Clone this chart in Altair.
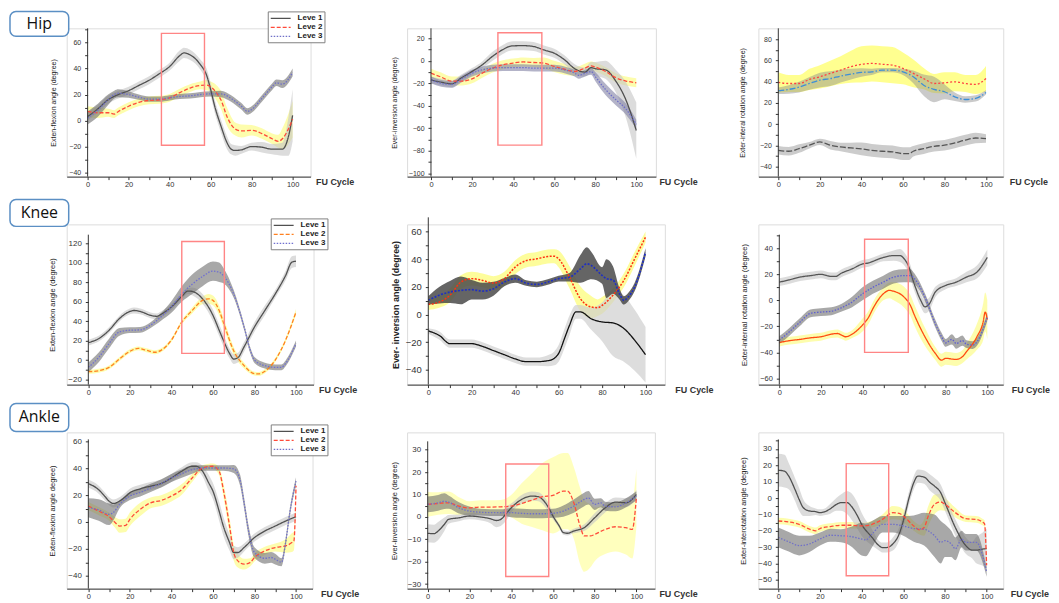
import altair as alt
import pandas as pd

LEVELS = ["Leve 1", "Leve 2", "Leve 3"]
ROW_NAMES = ["Hip", "Knee", "Ankle"]
X_TICKS = list(range(0, 101, 10))
Y_TITLES = [
    "Exten-flexion angle (degree)",
    "Ever-inversion angle (degree)",
    "Exter-interal rotation angle (degree)",
    "Exten-flexion angle (degree)",
    "Ever- inversion angle (degree)",
    "Exter-internal rotation angle (degree)",
    "Exten-flexion angle degree)",
    "Ever-inversion angle (degree)",
    "Exter-interotation angle (degree)",
]

# ---- data: (FU cycle %, mean angle, half band width) ----
HIP_FE_L1 = [(0,3,3),(5,9,3),(10,16,3),(15,20,3),(20,23,3),(25,27,3),(30,31,3),(35,36,3),(40,41.5,3),(45,50,4),(47,52,4),(50,50.5,4),(55,43,4),(58,35,5),(60,24,5),(62,11,5),(65,-4,5),(68,-17,5),(70,-22,4),(72,-23,4),(75,-22.5,3),(80,-20,3),(85,-20.5,4),(90,-22,4),(95,-22,5),(98,-12,15),(100,4,20)]
HIP_FE_L2 = [(0,7,4),(5,6,4),(10,6,3),(13,5,3),(15,7,3),(20,11,3),(25,14,3),(30,15.5,3),(35,16,3),(40,17.5,3),(45,21.5,3),(50,25,3),(55,27,3),(58,27.3,4),(60,26,4),(63,21,6),(65,16,7),(68,3,7),(70,-3,6),(72,-6.5,5),(75,-8,5),(80,-7.5,4),(85,-10,4),(90,-14,4),(93,-16,5),(95,-14,8),(100,1,14)]
HIP_FE_L3 = [(0,2,5),(5,8,5),(10,16,4),(13,20,3),(15,21,3),(20,20,2.5),(25,18,2),(30,16.5,2),(35,16.5,2),(40,17.5,2),(45,18.5,2),(50,19,2),(55,20,2),(60,20.5,2),(65,20.5,2.5),(70,17,2.5),(75,11,2.5),(78,7,2.5),(80,8.5,2.5),(85,17,2.5),(90,26,2.5),(92,29,2.5),(95,28,3),(100,37,3)]
HIP_FE_ROI = [36, 57, -19, 67]

HIP_EI_L1 = [(0,-17,3),(5,-19,3),(10,-20.5,3),(15,-15,3),(20,-9.5,3),(25,-3.5,3),(30,4,4),(35,10,4),(38,12.7,4),(40,13.3,4),(45,13.5,4),(50,12.7,4),(55,9.7,4),(60,6.8,4),(65,1,4),(70,-7,4),(75,-10,4),(78,-6,5),(80,-7,6),(85,-8,8),(90,-18,10),(95,-35,16),(100,-62,25)]
HIP_EI_L2 = [(0,-11,4),(5,-14.5,4),(10,-18,4),(15,-18,4),(20,-16,4),(25,-11,4),(30,-6.5,4),(35,-3.5,4),(40,-2,4),(45,-1,4),(50,-1.5,4),(55,-2,5),(60,-5,5),(65,-7.5,5),(70,-9.5,4),(75,-6.5,4),(78,-4.5,4),(80,-5.5,4),(85,-9.5,4),(90,-15,4),(95,-18,4),(100,-19.5,4)]
HIP_EI_L3 = [(0,-17,3),(5,-20,3),(10,-21,3),(15,-16,3),(20,-11,3),(25,-8,3),(30,-6.5,3),(35,-6,3),(40,-6,3),(45,-6,3),(50,-6.5,3),(55,-6.5,3),(60,-6.5,3),(65,-8,3),(70,-11,3),(72,-13,3),(75,-11,3),(78,-9.5,3),(80,-14,4),(85,-25.5,5),(90,-34.5,5),(95,-43,5),(100,-56.5,4)]
HIP_EI_ROI = [32.6, 54, -75, 25]

HIP_ROT_L1 = [(0,-24.6,4),(5,-25.5,4),(10,-23,4),(15,-19.8,3),(20,-16.7,3),(25,-19.8,4),(30,-21.4,4),(35,-22.4,5),(40,-23.3,6),(45,-24.6,6),(50,-25.5,6),(55,-26,6),(60,-27.7,6),(63,-27.7,6),(65,-25.5,5),(70,-23,5),(75,-20.8,5),(80,-19.8,5),(85,-17.6,5),(90,-15,5),(95,-13,5),(100,-13.5,4)]
HIP_ROT_L2 = [(0,39.4,9.5),(5,38.4,8),(10,38.4,8),(15,42.2,10),(20,44.7,11),(25,47.9,12),(30,51,13),(35,54.2,15),(40,56.4,17),(45,57.3,17),(50,56.5,17),(55,55.7,17),(60,52.6,15),(65,47.9,13),(70,43,10),(75,38.4,9),(80,39,10),(85,40,9),(90,38.4,8),(95,37.5,9),(100,43,12)]
HIP_ROT_L3 = [(0,31.5,3),(5,32.8,4),(10,35,5),(15,38.4,6),(20,41.6,7),(25,43,7),(30,45.4,6),(35,47.2,5),(40,48.8,4),(45,49.4,3),(50,51,2),(55,51,2),(60,49.4,3),(65,44.7,6),(70,36.8,10),(75,32.8,12),(80,30.6,7),(85,25.8,4),(90,23.3,3),(95,24.3,3),(100,30,2)]
HIP_ROT_ROI = []

KNEE_FE_L1 = [(0,18,3),(5,22,3),(10,30.7,3),(15,42.7,3),(20,50,3),(22,51,3),(25,50,3),(30,46,3),(33,45,3),(35,47,3),(40,54.6,3),(45,65.5,3),(48,71,3),(50,70.6,4),(55,63,5),(60,46,6),(63,30.7,6),(65,20.5,6),(68,6.8,5),(70,1,5),(72,2.4,5),(75,13.6,5),(80,34,5),(85,51,5),(90,68,4),(95,87,5),(98,100.7,6),(100,101.7,6)]
KNEE_FE_L2 = [(0,-12,2),(5,-11,2),(10,-7.5,2),(15,1,2),(20,9,2),(24,12,2),(28,10,2),(32,8,2),(35,10,2),(40,20.5,2),(45,39,2),(50,51,3),(55,61.4,4),(58,63,5),(60,61.4,5),(63,51,5),(65,39,5),(70,9.5,4),(75,-5.8,3),(80,-14,2),(82,-14.3,2),(85,-11.6,2),(90,0,2),(95,20.5,2),(100,49.5,3)]
KNEE_FE_L3 = [(0,-7.5,5),(5,2.7,5),(10,17,5),(15,29,4),(20,30.7,3),(25,31,3),(30,36,3),(35,44.4,4),(40,54.6,6),(45,68,8),(50,78,10),(55,86,10),(60,91.5,10),(63,90.4,10),(65,87,8),(70,68,4),(75,34,3),(78,10,3),(80,0,3),(85,-5.8,3),(90,-7.5,3),(93,-7.5,3),(95,-3.4,3),(100,17,3)]
KNEE_FE_ROI = [45, 65.5, 6.8, 122]

KNEE_EI_L1 = [(0,-11.8,2),(5,-15,3),(10,-21,3),(15,-21,3),(20,-21,3),(25,-23,3),(30,-26,3),(35,-29,3),(40,-32,3),(45,-34,3),(50,-34,3),(55,-33.3,4),(58,-31.6,5),(60,-28,6),(63,-16,7),(65,-7.7,7),(68,2,5),(70,2,5),(75,-3,8),(80,-5.3,14),(85,-6,24),(90,-10,24),(95,-18.5,22),(100,-29,20)]
KNEE_EI_L2 = [(0,7.4,4),(5,9,4),(10,14,5),(15,23.5,5),(20,26,5),(25,24.7,5),(30,22.8,5),(35,26,5),(40,34.3,5),(45,39,5),(50,40.3,5),(55,42,5),(58,42.2,5),(60,40.3,6),(65,27,8),(70,11.5,9),(75,5.5,8),(78,5,6),(80,6.7,6),(85,14,5),(90,24.7,5),(95,40.3,5),(100,56,4)]
KNEE_EI_L3 = [(0,10.3,3),(5,14,6),(10,16.3,8),(15,17.5,10),(20,18,7),(25,17,6),(30,18.7,5),(35,23.5,3),(40,26,3),(45,22.8,2),(50,21.8,2),(55,23.5,2),(60,26,2),(65,27,3),(70,33,10),(73,36.7,12),(75,35.5,10),(80,28.3,6),(82,26,14),(85,25,10),(88,15,4),(90,10.3,3),(92,12.7,3),(95,20,3),(100,45,3)]
KNEE_EI_ROI = []

KNEE_ROT_L1 = [(0,14,3),(5,15.8,3),(10,17.9,3),(15,19,3),(20,20,3),(25,18.4,3),(27,18.4,3),(30,21,3),(35,24.2,3),(40,28,3),(43,28.8,3),(45,30,3),(50,33,3),(55,34.4,4),(58,34.4,5),(60,32,5),(62,26.8,5),(65,12,5),(68,0,5),(70,-5,5),(72,-3,5),(75,6.4,4),(80,11.5,3),(85,14,3),(90,17.9,4),(95,21.7,5),(100,33,6)]
KNEE_ROT_L2 = [(0,-32.4,3),(5,-31,3),(10,-30,3),(15,-28.8,3),(20,-28,3),(25,-26,3),(28,-25.5,3),(30,-26.8,3),(32,-28,3),(35,-26,3),(40,-19,5),(43,-12.8,5),(45,-6.4,5),(50,5,5),(53,7.7,6),(55,7,7),(60,2.5,8),(63,-3.8,8),(65,-11.5,8),(70,-28,7),(75,-40.8,5),(78,-46,5),(80,-44.6,5),(85,-45.4,5),(88,-43.4,5),(90,-39.5,6),(95,-28,10),(98,-16.6,14),(99,-9,15),(100,-14.8,15)]
KNEE_ROT_L3 = [(0,-30.6,3),(5,-24,3),(10,-16.6,3),(15,-10,3),(20,-9,3),(25,-8.4,3),(30,-5.6,3),(35,-1.3,4),(40,5,5),(45,10,5),(50,14,5),(55,17.9,5),(60,19,5),(63,19,5),(65,16.6,4),(70,2.5,3),(75,-17.9,3),(78,-28,3),(80,-32.7,3),(83,-30,4),(85,-33.2,4),(88,-31,4),(90,-33.7,3),(93,-34.4,3),(95,-32,3),(100,-12.8,3)]
KNEE_ROT_ROI = [41, 62, -40, 47]

ANKLE_FE_L1 = [(0,28.6,3),(5,24,3),(8,19,3),(10,15.5,3),(12,13.8,3),(15,15.5,3),(18,19,3),(20,21.7,3),(25,24.7,3),(30,26.7,3),(35,28.6,3),(40,32.8,3),(45,37.8,3),(50,41.5,3),(52,41.5,3),(55,37.8,4),(58,29,6),(60,23,6),(63,8,7),(65,-3,7),(68,-15.3,6),(70,-22.7,5),(72,-22.7,4),(75,-19,3),(80,-11.6,3),(85,-6.7,3),(90,-3,3),(95,0.7,3),(100,4,3)]
ANKLE_FE_L2 = [(0,11.9,3),(5,8.1,3),(10,4,3),(13,-0.5,4),(15,-3,5),(18,-2.5,5),(20,2,5),(25,9.4,5),(30,14.3,4),(35,16,4),(40,19.3,4),(45,24.2,4),(50,32.8,3),(55,40.2,2),(60,41.5,2),(63,37.8,3),(65,24.2,5),(68,-3,6),(70,-22.7,6),(72,-28.9,5),(75,-31.4,4),(78,-30,3),(80,-26.4,3),(85,-21.5,3),(90,-19,3),(95,-17.8,5),(98,-15.3,7),(99,-14,7),(100,27,4)]
ANKLE_FE_L3 = [(0,10.6,7),(5,9,8),(10,5.7,8),(12,7,6),(15,13,3),(20,19.3,3),(25,22,3),(30,25.4,3),(35,28.6,3),(40,32.8,3),(45,36,3),(50,39,3),(55,40.2,2),(60,40.2,2),(65,40.2,2),(70,39.5,3),(73,31.6,4),(75,14.3,4),(77,-5.4,4),(80,-22.7,4),(85,-27,4),(88,-26.4,4),(90,-27.7,4),(93,-30,3),(95,-15.3,3),(97,7,3),(100,30.4,3)]
ANKLE_FE_ROI = []

ANKLE_EI_L1 = [(0,-7.3,4),(3,-7.5,4),(5,-6.3,4),(8,-3.3,3),(10,-1.1,2),(15,-0.4,1.5),(20,0.4,1.5),(25,0,1.5),(30,-0.8,2),(33,-1.6,3),(35,-1.1,3),(38,1.9,3),(40,4,2),(45,7.8,2),(50,9.3,2),(53,9,2),(55,7.8,2),(58,4,2),(60,0.4,1.5),(63,-4,1),(65,-7,1),(67,-7.3,1),(70,-6.3,1),(75,-4.8,1.5),(80,-0.4,2),(85,4,2),(90,6.6,2),(95,6.3,2),(100,10,2)]
ANKLE_EI_L2 = [(0,5.6,5.5),(5,6,5),(10,6.3,5),(15,4.8,4),(20,4,3),(25,4.4,3),(30,4.4,3),(35,4.5,3),(40,4.8,5),(45,6,9),(50,7.5,12),(55,9,15),(60,9.6,17),(65,11.5,17),(67,11.5,17),(70,6.3,16),(73,-4,17),(75,-8.5,16),(78,-8.5,14),(80,-7.8,12),(85,-5.6,11),(90,-4.4,11),(95,-4.8,12),(98,-5.6,13),(100,8.5,13)]
ANKLE_EI_L3 = [(0,5.6,3.5),(5,6.3,3.5),(8,7,3.5),(10,6.6,3),(15,4,2.5),(20,2.6,2),(25,2.1,1.5),(30,1.9,1.5),(35,1.9,1.5),(40,1.9,2),(45,1.6,2),(50,1.4,2),(55,1.4,2),(60,1.6,2),(65,2.6,2.5),(70,4.8,3),(75,7.8,3),(77,8.5,3),(80,5.6,2.5),(83,6.3,2),(85,4.8,2),(90,4.5,2),(95,6.3,2),(100,9.3,2)]
ANKLE_EI_ROI = [37.4, 58, -26.6, 23.6]

ANKLE_ROT_L1 = [(0,17,10),(3,16.4,10),(5,13.4,8),(8,5.3,7),(10,-0.8,7),(12,-5.9,5),(15,-7.9,3),(18,-8.3,2),(20,-8.9,2),(22,-8.5,2),(25,-6.5,3),(28,-3.8,4),(30,-2.8,5),(33,-2.8,7),(35,-4.9,8),(38,-10.9,8),(40,-16,7),(45,-24,5),(48,-28.7,3),(50,-30.2,3),(52,-30.2,3),(55,-28,4),(58,-22,4),(60,-14,4),(63,1.2,4),(65,9.3,4),(67,13.4,4),(70,12.8,4),(73,9.3,5),(75,7.3,5),(78,3.2,5),(80,-2.8,5),(85,-18,5),(90,-29,5),(93,-31.8,5),(95,-31.8,8),(98,-31.2,10),(100,-30.8,12)]
ANKLE_ROT_L2 = [(0,-14,2),(5,-14.6,2),(10,-16,2),(15,-19,2),(18,-20,2),(20,-18.6,2),(25,-17.4,2),(30,-16.6,2),(35,-16.6,2),(40,-17,2),(45,-16,2),(50,-13,3),(55,-8.9,4),(58,-9.3,4),(60,-10.9,4),(65,-17,3),(68,-19.4,3),(70,-18,5),(72,-10.9,6),(75,-3.8,6),(78,-2.4,5),(80,-3.8,4),(85,-8.9,3),(90,-12.6,2),(95,-13,2),(98,-14.6,2),(99,-15.6,2),(100,-41,2)]
ANKLE_ROT_L3 = [(0,-24,6),(5,-26.7,6),(10,-29,6),(15,-28,5),(20,-25,4),(25,-22.7,4),(30,-23,4),(35,-23.5,6),(40,-25,10),(42,-25.5,10),(45,-22,8),(50,-16,5),(55,-16,5),(60,-17,6),(65,-18.6,8),(70,-19,10),(75,-23,13),(78,-27,13),(80,-26,10),(83,-28,8),(85,-31,7),(88,-25,5),(90,-27,5),(95,-27,5),(100,-45,3)]
ANKLE_ROT_ROI = [32.6, 53, -47.4, 21]

SERIES = [
    (HIP_FE_L1, HIP_FE_L2, HIP_FE_L3), (HIP_EI_L1, HIP_EI_L2, HIP_EI_L3), (HIP_ROT_L1, HIP_ROT_L2, HIP_ROT_L3),
    (KNEE_FE_L1, KNEE_FE_L2, KNEE_FE_L3), (KNEE_EI_L1, KNEE_EI_L2, KNEE_EI_L3), (KNEE_ROT_L1, KNEE_ROT_L2, KNEE_ROT_L3),
    (ANKLE_FE_L1, ANKLE_FE_L2, ANKLE_FE_L3), (ANKLE_EI_L1, ANKLE_EI_L2, ANKLE_EI_L3), (ANKLE_ROT_L1, ANKLE_ROT_L2, ANKLE_ROT_L3),
]
ROIS = [HIP_FE_ROI, HIP_EI_ROI, HIP_ROT_ROI, KNEE_FE_ROI, KNEE_EI_ROI, KNEE_ROT_ROI, ANKLE_FE_ROI, ANKLE_EI_ROI, ANKLE_ROT_ROI]

# ---- layout / style (not data) ----
FONT = "Liberation Sans"
DEF_LINES = ["#505050", "#ff4a3a", "#7070c8"]
DEF_DASH = [[1, 0], [4, 2], [1.5, 1.5]]
DEF_LW = [1.3, 1.3, 1.6]
DEF_BANDS = ["#c4c4c4", "#fbfb6a", "#6e6e6e"]
DEF_BOP = [0.6, 0.55, 0.6]

STYLES = [
    dict(off=21, k=2.06, w=245, h=149, ydom=[-43.1, 70.9], ytop=70.9, t0=-40, t1=70, ts=10, lab=20, fu=250, lfs=7, tfs=7, tfw="normal", tpad=12),
    dict(off=24, k=2.063, w=250, h=149, ydom=[-103, 28.9], ytop=28.9, t0=-100, t1=20, ts=10, lab=20, fu=253, lfs=7, tfs=7, tfw="normal", tpad=11,
         bands=["#c4c4c4", "#fbfb6a", "#8080a4"]),
    dict(off=20, k=2.087, w=246, h=149, ydom=[-49.4, 90.4], ytop=90.4, t0=-40, t1=80, ts=10, lab=20, fu=252, lfs=7, tfs=7, tfw="normal", tpad=14,
         lines=["#555555", "#ff4040", "#3d8fd6"], dash=[[6, 2], [2, 2], [6, 2, 1.5, 2]],
         bands=["#9a9a9a", "#ffff55", "#8a8a8a"], bop=[0.5, 0.65, 0.45]),
    dict(off=21.7, k=2.087, w=248, h=161, ydom=[-25.3, 139.6], ytop=129, t0=-20, t1=120, ts=10, lab=20, fu=253, lfs=8, tfs=7.5, tfw="normal", tpad=11,
         lines=["#505050", "#ff8020", "#7070d0"]),
    dict(off=21.3, k=2.183, w=259, h=161, ydom=[-50.6, 65.2], ytop=70.3, t0=-40, t1=70, ts=10, lab=20, fu=269, lfs=9.5, tfs=9, tfw="bold", tpad=5,
         lines=["#111111", "#ff3010", "#2030c0"], dash=[[1, 0], [2, 1.5], [2, 1.5]], lw=[1.3, 1.7, 1.9],
         bands=["#cfcfcf", "#fbfb5a", "#4a4a4a"], bop=[0.7, 0.6, 0.85]),
    dict(off=21, k=2.09, w=246, h=161, ydom=[-64.8, 58.4], ytop=50.5, t0=-60, t1=50, ts=10, lab=20, fu=254, lfs=7.5, tfs=7.5, tfw="normal", tpad=11,
         lines=["#555555", "#ff4a10", "#6060d0"], dash=[[1, 0], [1, 0], [1.5, 1.5]]),
    dict(off=21.7, k=2.087, w=247, h=157, ydom=[-49.6, 66.7], ytop=61.5, t0=-40, t1=60, ts=10, lab=20, fu=255, lfs=8, tfs=7.5, tfw="normal", tpad=11),
    dict(off=20.7, k=2.097, w=249, h=157, ydom=[-32, 37.7], ytop=33.7, t0=-30, t1=30, ts=5, lab=10, fu=253, lfs=8, tfs=7.5, tfw="normal", tpad=9,
         bands=["#c4c4c4", "#ffff88", "#6e6e6e"]),
    dict(off=20, k=2.093, w=246, h=157, ydom=[-55.3, 40.1], ytop=35.8, t0=-50, t1=35, ts=5, lab=10, fu=253, lfs=8, tfs=7.5, tfw="normal", tpad=10),
]
LEGEND_POS = [(202, -17), (205, -6), (205, -8)]
ROWBOX = [(-17, 8, -4.5), (-25, 2, -11.5), (-29, -1, -15)]


def build_df(series):
    rows = []
    for lv, ser in zip(LEVELS, series):
        for x, m, sd in ser:
            rows.append(dict(x=x, m=m, lo=m - sd, hi=m + sd, s=lv))
    return pd.DataFrame(rows)


def make_panel(i):
    st = STYLES[i]
    row, col = divmod(i, 3)
    df = build_df(SERIES[i])
    off, k, W, H = st["off"], st["k"], st["w"], st["h"]
    xs = alt.Scale(domain=[-off / k, (W - off) / k], nice=False, zero=False)
    ys = alt.Scale(domain=st["ydom"], nice=False, zero=False)
    yvals = []
    v = st["t0"]
    while v <= st["t1"] + 1e-9:
        yvals.append(v)
        v += st["ts"]
    xaxis = alt.Axis(values=X_TICKS, labelExpr="datum.value % 20 === 0 ? datum.label : ''",
                     title="FU Cycle", titleX=st["fu"], titleY=4.5, titleAlign="left", titleBaseline="middle",
                     titleFontSize=9, titleFontWeight="bold", titleColor="#333333",
                     labelFontSize=7.5, labelPadding=1, tickSize=3, labelFlush=False, labelOverlap=False,
                     grid=False, domainColor="#333333", tickColor="#333333", labelColor="#333333")
    yaxis = alt.Axis(values=yvals, labelExpr=f"datum.value % {st['lab']} === 0 ? datum.label : ''",
                     title=Y_TITLES[i], offset=-off, domain=False, titlePadding=st["tpad"],
                     labelFontSize=st["lfs"], titleFontSize=st["tfs"], titleFontWeight=st["tfw"],
                     titleColor="#222222", labelColor="#333333", tickColor="#333333",
                     tickSize=3, labelPadding=4, grid=False, labelOverlap=False, labelFlush=False)
    X = alt.X("x:Q", scale=xs, axis=xaxis)
    bands = st.get("bands", DEF_BANDS)
    bop = st.get("bop", DEF_BOP)
    layers = []
    for j in (1, 0, 2):
        sub = df[df.s == LEVELS[j]]
        layers.append(alt.Chart(sub).mark_area(interpolate="monotone", color=bands[j], opacity=bop[j]).encode(
            x=X, y=alt.Y("lo:Q", scale=ys, axis=yaxis), y2="hi:Q"))
    if col == 0:
        leg = alt.Legend(orient="none", legendX=LEGEND_POS[row][0], legendY=LEGEND_POS[row][1], title=None,
                         strokeColor="#808080", fillColor="white", padding=2, rowPadding=0,
                         labelFontSize=8, labelFontWeight="bold", labelColor="#222222",
                         symbolOffset=6, labelOffset=12,
                         symbolType="M-2.5,0H2.5", symbolSize=64, symbolStrokeWidth=1.5)
    else:
        leg = None
    layers.append(alt.Chart(df).mark_line(interpolate="monotone").encode(
        x=X, y=alt.Y("m:Q", scale=ys, axis=yaxis),
        color=alt.Color("s:N", scale=alt.Scale(domain=LEVELS, range=st.get("lines", DEF_LINES)), legend=leg),
        strokeDash=alt.StrokeDash("s:N", scale=alt.Scale(domain=LEVELS, range=st.get("dash", DEF_DASH)), legend=leg),
        strokeWidth=alt.StrokeWidth("s:N", scale=alt.Scale(domain=LEVELS, range=st.get("lw", DEF_LW)), legend=None),
    ))
    roi = ROIS[i]
    if roi:
        rdf = pd.DataFrame([dict(x1=roi[0], x2=roi[1], y1=roi[2], y2=roi[3])])
        layers.append(alt.Chart(rdf).mark_rect(fill="white", fillOpacity=0, stroke="#ff8585", strokeWidth=1.4).encode(
            x=alt.X("x1:Q", scale=xs, axis=xaxis), x2="x2:Q", y=alt.Y("y1:Q", scale=ys, axis=yaxis), y2="y2:Q"))
    layers.append(alt.Chart(pd.DataFrame({"a": [0]})).mark_rule(color="#333333", strokeWidth=1).encode(
        x=alt.XDatum(0, scale=xs, axis=xaxis),
        y=alt.YDatum(st["ydom"][0], scale=ys, axis=yaxis),
        y2=alt.Y2Datum(st["ytop"])))
    if col == 0:
        by0, by1, ty = ROWBOX[row]
        ldf = pd.DataFrame({"t": [ROW_NAMES[row]]})
        layers.append(alt.Chart(ldf).mark_rect(cornerRadius=6, fill="white", stroke="#5b8fc4", strokeWidth=1.5).encode(
            x=alt.value(-57), x2=alt.value(2), y=alt.value(by0), y2=alt.value(by1)))
        layers.append(alt.Chart(ldf).mark_text(font="Open Sans", fontSize=16, color="#111111", baseline="middle").encode(
            x=alt.value(-27.5), y=alt.value(ty), text="t:N"))
    return alt.layer(*layers).properties(width=W, height=H)


panels = [make_panel(i) for i in range(9)]
chart = alt.concat(*panels, columns=3).properties(
    spacing={"row": 48, "column": 94}, bounds="flush", padding=0
).resolve_scale(
    x="independent", y="independent", color="independent", strokeDash="independent", strokeWidth="independent"
).resolve_legend(
    color="independent", strokeDash="independent"
).configure_view(stroke="transparent").configure(font=FONT)

chart.save("out.html", embed_options={"renderer": "svg", "actions": False})
